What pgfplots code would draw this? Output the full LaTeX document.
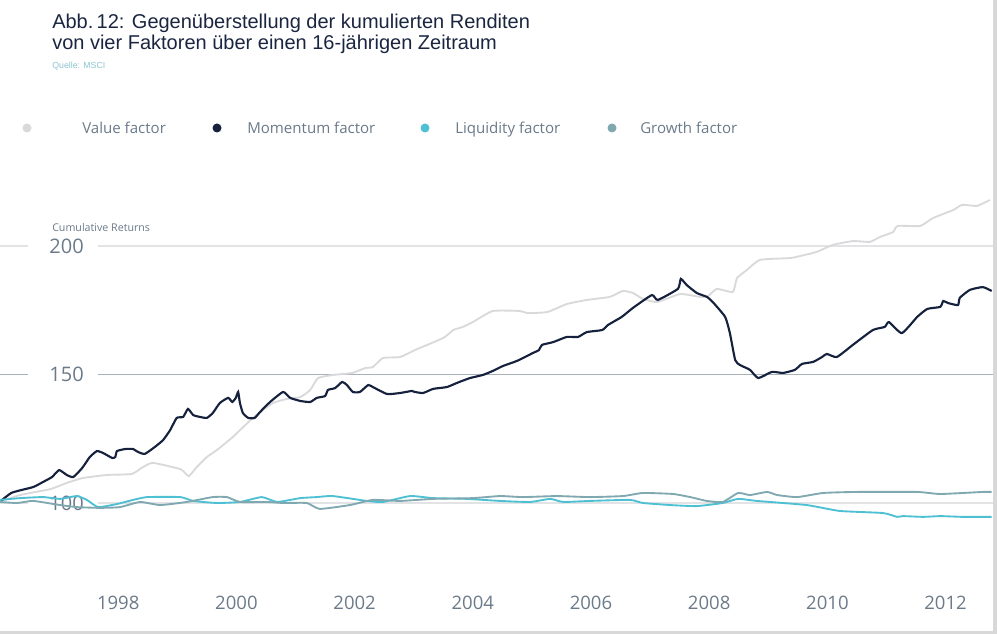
\documentclass[border=0pt]{standalone}
\usepackage{pgfplots}
\pgfplotsset{compat=1.18}
\usepackage{fontspec}
\setmainfont{Open Sans}
\newfontfamily\titlefont{Liberation Sans}
\definecolor{valc}{HTML}{D9D9DB}
\definecolor{momc}{HTML}{15213D}
\definecolor{liqc}{HTML}{4EC0D3}
\definecolor{groc}{HTML}{7FA8B0}
\definecolor{txtc}{HTML}{6B7A89}
\definecolor{titc}{HTML}{1A2540}
\definecolor{srcc}{HTML}{8CC5D0}
\definecolor{gridl}{HTML}{E2E3E5}
\definecolor{gridd}{HTML}{A8B0B8}
\definecolor{framec}{HTML}{D8D8D8}
\begin{document}
\begin{tikzpicture}
\useasboundingbox (0,0) rectangle (747.75pt,-475.5pt);
\begin{axis}[at={(0,0)}, anchor=north west, scale only axis,
  width=747.75pt, height=475.5pt,
  xmin=1996, xmax=2012.87, ymin=49.03, ymax=295.7,
  axis x line=bottom, axis y line=left,
  axis line style={draw=none}, tick style={draw=none},
  xtick={1998,2000,...,2012}, ytick={100,150,200},
  /pgf/number format/assume math mode=true,
  /pgf/number format/1000 sep={},
  xticklabel style={anchor=center, yshift=25.8pt, text=txtc, font=\fontsize{13.9}{16}\selectfont},
  yticklabel style={anchor=west, inner sep=0pt, xshift=39pt, text=txtc, font=\fontsize{15}{17}\selectfont},
  clip=false,
]
% grid lines with gaps behind the y labels
\draw[gridl, line width=0.8pt] (axis cs:1996,200) -- (axis cs:1996.47,200);
\draw[gridl, line width=0.8pt] (axis cs:1997.66,200) -- (axis cs:2012.80,200);
\draw[gridd, line width=0.8pt] (axis cs:1996,150) -- (axis cs:1996.47,150);
\draw[gridd, line width=0.8pt] (axis cs:1997.66,150) -- (axis cs:2012.80,150);
\draw[gridl, line width=0.8pt] (axis cs:1996,100) -- (axis cs:1996.47,100);
\draw[gridl, line width=0.8pt] (axis cs:1997.66,100) -- (axis cs:2012.80,100);

% Value factor
\addplot[valc, line width=1.4pt, smooth, tension=0.3] coordinates {
(1996.00,100.4) (1996.34,103.1) (1996.85,105.4) (1997.13,107.8) (1997.40,109.7)
(1997.81,110.9) (1998.23,111.3) (1998.42,114.0) (1998.59,115.6) (1999.05,113.2)
(1999.13,111.7) (1999.20,110.5) (1999.33,114.0) (1999.50,117.9) (1999.67,120.6)
(1999.94,125.7) (2000.28,133.1) (2000.62,138.9) (2000.86,140.5) (2001.08,141.2)
(2001.25,144.0) (2001.38,148.6) (2001.63,149.8) (2001.96,150.6) (2002.18,152.5)
(2002.31,152.9) (2002.48,156.4) (2002.77,156.8) (2003.02,159.5) (2003.50,164.2)
(2003.67,167.3) (2003.83,168.5) (2004.00,170.4) (2004.34,174.7) (2004.80,174.7)
(2004.92,173.9) (2005.26,174.3) (2005.59,177.4) (2005.93,179.0) (2006.32,180.2)
(2006.54,182.5) (2006.71,181.7) (2006.88,179.4) (2007.12,178.2) (2007.51,181.3)
(2007.84,180.2) (2007.98,180.5) (2008.13,183.3) (2008.40,182.1) (2008.47,187.5)
(2008.64,190.7) (2008.86,194.6) (2009.37,195.3) (2009.54,196.1) (2009.82,197.7)
(2010.09,200.4) (2010.43,201.9) (2010.72,201.6) (2010.89,203.5) (2011.11,205.4)
(2011.19,207.8) (2011.57,207.8) (2011.79,210.9) (2012.13,214.0) (2012.28,216.0)
(2012.53,215.6) (2012.75,217.9)
};
% Momentum factor
\addplot[momc, line width=1.6pt, smooth, tension=0.3] coordinates {
(1996.00,100.5) (1996.20,104.0) (1996.56,106.2) (1996.73,108.2) (1996.88,110.1)
(1997.00,112.8) (1997.13,110.9) (1997.24,110.1) (1997.39,113.6) (1997.52,117.9)
(1997.64,120.2) (1997.74,119.5) (1997.90,117.5) (1997.95,117.9) (1997.98,120.2)
(1998.12,121.0) (1998.25,121.0) (1998.34,119.8) (1998.45,119.1) (1998.62,121.8)
(1998.76,124.5) (1998.88,128.4) (1998.99,133.1) (1999.10,133.5) (1999.18,136.6)
(1999.27,134.2) (1999.38,133.5) (1999.50,133.1) (1999.60,135.0) (1999.72,138.9)
(1999.86,140.9) (1999.93,139.3) (1999.99,140.9) (2000.03,143.2) (2000.06,138.9)
(2000.11,135.0) (2000.20,133.1) (2000.31,133.1) (2000.40,135.4) (2000.57,139.3)
(2000.79,143.2) (2000.91,140.9) (2001.08,139.7) (2001.25,139.3) (2001.36,140.9)
(2001.50,141.6) (2001.55,144.0) (2001.67,144.7) (2001.79,147.1) (2001.87,145.9)
(2001.97,143.2) (2002.09,143.2) (2002.23,145.9) (2002.31,145.1) (2002.55,142.4)
(2002.77,142.8) (2002.97,143.6) (2003.02,143.2) (2003.16,142.8) (2003.33,144.4)
(2003.56,145.1) (2003.73,146.7) (2003.95,148.6) (2004.17,149.8) (2004.34,151.4)
(2004.51,153.3) (2004.75,155.3) (2005.02,158.4) (2005.12,159.5) (2005.17,161.5)
(2005.36,162.6) (2005.59,164.6) (2005.78,164.6) (2005.93,166.5) (2006.19,167.3)
(2006.29,169.3) (2006.52,172.4) (2006.71,175.9) (2007.03,180.9) (2007.13,179.0)
(2007.47,183.3) (2007.52,187.2) (2007.62,184.8) (2007.79,181.7) (2007.96,180.2)
(2008.06,178.2) (2008.27,172.4) (2008.35,166.1) (2008.44,155.6) (2008.52,153.7)
(2008.69,151.8) (2008.83,148.6) (2009.06,151.0) (2009.25,150.6) (2009.45,151.8)
(2009.57,154.1) (2009.76,154.9) (2009.91,156.8) (2009.99,158.0) (2010.16,156.8)
(2010.43,161.5) (2010.77,167.3) (2010.97,168.5) (2011.04,170.4) (2011.26,166.1)
(2011.52,172.4) (2011.69,175.5) (2011.91,176.3) (2011.96,178.6) (2012.04,177.8)
(2012.21,177.0) (2012.24,179.8) (2012.41,182.9) (2012.63,184.0) (2012.78,182.5)
};
% Liquidity factor
\addplot[liqc, line width=1.4pt, smooth, tension=0.3] coordinates {
(1996.00,101.2) (1996.34,101.9) (1996.73,102.3) (1997.02,101.6) (1997.30,102.7)
(1997.47,101.2) (1997.66,98.4) (1997.98,99.6) (1998.25,101.2) (1998.49,102.3)
(1999.05,102.3) (1999.27,100.8) (1999.67,100.0) (2000.06,100.4) (2000.43,102.3)
(2000.69,100.4) (2001.08,101.9) (2001.36,102.3) (2001.63,102.7) (2002.21,100.8)
(2002.48,100.4) (2002.94,102.7) (2003.33,101.9) (2003.90,101.6) (2004.46,100.8)
(2004.97,100.4) (2005.31,101.6) (2005.53,100.4) (2005.98,100.8) (2006.66,101.2)
(2006.88,100.0) (2007.34,99.2) (2007.79,98.8) (2008.23,100.0) (2008.49,101.6)
(2008.81,100.8) (2009.65,99.2) (2010.21,96.9) (2010.94,96.1) (2011.18,94.6)
(2011.28,94.9) (2011.62,94.6) (2011.91,94.9) (2012.29,94.6) (2012.78,94.6)
};
% Growth factor
\addplot[groc, line width=1.4pt, smooth, tension=0.3] coordinates {
(1996.00,100.4) (1996.29,100.0) (1996.56,100.8) (1997.02,99.2) (1997.30,98.4)
(1997.69,98.1) (1998.03,98.4) (1998.37,100.4) (1998.71,99.2) (1999.16,100.4)
(1999.60,102.3) (1999.84,102.3) (2000.06,100.4) (2000.52,100.4) (2000.79,100.0)
(2001.19,100.0) (2001.41,97.7) (2001.92,99.2) (2002.31,101.2) (2002.77,100.8)
(2003.33,101.6) (2004.00,101.9) (2004.46,102.7) (2004.85,102.3) (2005.42,102.7)
(2005.98,102.3) (2006.54,102.7) (2006.88,103.9) (2007.39,103.5) (2007.68,102.3)
(2007.96,100.8) (2008.23,100.4) (2008.49,103.9) (2008.69,103.1) (2008.98,104.3)
(2009.15,103.1) (2009.49,102.3) (2009.93,103.9) (2010.50,104.3) (2011.52,104.3)
(2011.91,103.5) (2012.63,104.3) (2012.78,104.3)
};
\end{axis}
\begin{scope}[x=0.75pt,y=-0.75pt]
% frame
\fill[framec] (992.5,0) rectangle (997,634);
\fill[framec] (0,631) rectangle (997,634);
% title
\node[anchor=base west, inner sep=0pt, text=titc, font=\titlefont\fontsize{15}{16}\selectfont] at (52,29) {Abb.\,12: Gegenüberstellung der kumulierten Renditen};
\node[anchor=base west, inner sep=0pt, text=titc, font=\titlefont\fontsize{15}{16}\selectfont] at (52,50) {von vier Faktoren über einen 16-jährigen Zeitraum};
\node[anchor=west, inner sep=0pt, text=srcc, font=\titlefont\fontsize{6.6}{8}\selectfont] at (52,66) {Quelle: MSCI};
% legend
\fill[valc] (27,128) circle (4.5);
\fill[momc] (217,128) circle (4.5);
\fill[liqc] (425,128) circle (4.5);
\fill[groc] (612,128) circle (4.5);
\node[anchor=base west, inner sep=0pt, text=txtc, font=\fontsize{11.3}{13}\selectfont] at (82,133.3) {Value factor};
\node[anchor=base west, inner sep=0pt, text=txtc, font=\fontsize{11.3}{13}\selectfont] at (247,133.3) {Momentum factor};
\node[anchor=base west, inner sep=0pt, text=txtc, font=\fontsize{11.3}{13}\selectfont] at (455,133.3) {Liquidity factor};
\node[anchor=base west, inner sep=0pt, text=txtc, font=\fontsize{11.3}{13}\selectfont] at (640,133.3) {Growth factor};
% axis title
\node[anchor=west, inner sep=0pt, text=txtc, font=\fontsize{8}{9}\selectfont] at (52,228) {Cumulative Returns};
\end{scope}
\end{tikzpicture}
\end{document}
